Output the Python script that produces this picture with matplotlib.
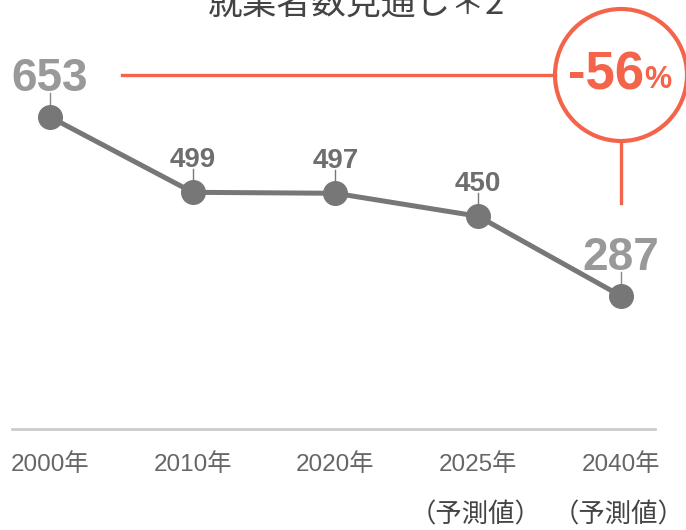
import matplotlib
matplotlib.use('Agg')
import matplotlib.pyplot as plt
from matplotlib.patches import Ellipse

plt.rcParams['font.family'] = ['Liberation Sans', 'Noto Sans CJK JP', 'DejaVu Sans']

years = ['2000年', '2010年', '2020年', '2025年', '2040年']
values = [653, 499, 497, 450, 287]
forecast = ['', '', '', '（予測値）', '（予測値）']
change_label = '-56'
title = '就業者数見通し＊2'

W, H = 686, 530
# pixel scale of the data: one x step ~142.75 px, one unit ~0.489 px
XS, YS = 142.75, 0.489

fig = plt.figure(figsize=(W / 100, H / 100), dpi=100)
ax = fig.add_axes([0, 0, 1, 1])
ax.set_xlim(-50 / XS, (W - 50) / XS)
ax.set_ylim(653 - (H - 117) / YS, 653 + 117 / YS)
ax.axis('off')

x = list(range(len(values)))
ax.plot(x, values, color='#777777', lw=3.6, zorder=2, solid_capstyle='round')
ax.plot(x, values, 'o', color='#777777', ms=17, zorder=3)

# value labels with short leader ticks
ends = {0, len(values) - 1}
for i, v in enumerate(values):
    if i in ends:
        ax.plot([i, i], [v + 24, v + 49], color='#888888', lw=1, zorder=1)
        ax.text(i, v + 53, str(v), ha='center', va='baseline', fontsize=33,
                fontweight='bold', color='#999999')
    else:
        ax.plot([i, i], [v + 20, v + 47], color='#777777', lw=1, zorder=1)
        ax.text(i, v + 52, str(v), ha='center', va='baseline', fontsize=20,
                fontweight='bold', color='#6e6e6e')

# baseline
ax.plot([-38 / XS, 605 / XS], [15, 15], color='#cccccc', lw=2, zorder=1)

# category labels
for i, lab in enumerate(years):
    ax.text(i, 653 - (465 - 117) / YS, lab, ha='center', va='center',
            fontsize=17.5, color='#666666')
    if forecast[i]:
        ax.text(i - 0.02, 653 - (515 - 117) / YS, forecast[i], ha='center',
                va='center', fontsize=19, color='#444444',
                family=['Noto Sans CJK JP'])

# -56% callout
red = '#f4644b'
cy = 653 + (117 - 75) / YS
r = 66
ax.plot([122 / XS - 50 / XS, 4 - r / XS], [cy, cy], color=red, lw=2.4, zorder=1)
ax.plot([4, 4], [cy - r / YS, 653 - (203 - 117) / YS], color=red, lw=2.4)
ax.add_patch(Ellipse((4, cy), 2 * r / XS, 2 * r / YS, fill=False,
                     ec=red, lw=3, zorder=4, clip_on=False))
ax.text(4.16, cy - 2, change_label, ha='right', va='center', fontsize=38,
        fontweight='bold', color=red)
ax.text(4.16, cy - 10, '%', ha='left', va='center', fontsize=22,
        fontweight='bold', color=red)

fig.text(356 / W, 1 - 14 / H, title, ha='center', va='baseline', fontsize=25,
         color='#444444', family=['Noto Sans CJK JP'])

fig.savefig('out.png', dpi=100, facecolor='white')
